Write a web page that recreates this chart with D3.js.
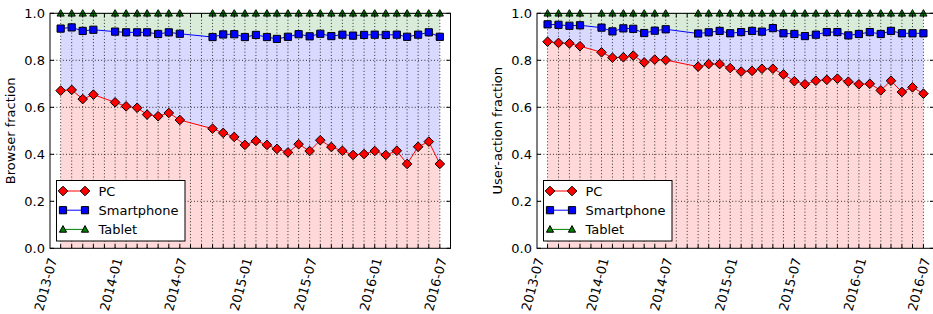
<!DOCTYPE html>
<html>
<head>
<meta charset="utf-8">
<script src="https://cdn.jsdelivr.net/npm/d3@7"></script>
<style>
html,body{margin:0;padding:0;background:#fff;}
svg{display:block;}
text{font-family:"DejaVu Sans",sans-serif;fill:#000;}
</style>
</head>
<body>
<script>
const months = ["2013-07","2013-08","2013-09","2013-10","2013-12","2014-01","2014-02","2014-03","2014-04","2014-05","2014-06",
"2014-09","2014-10","2014-11","2014-12","2015-01","2015-02","2015-03","2015-04","2015-05","2015-06","2015-07","2015-08","2015-09","2015-10","2015-11","2015-12","2016-01","2016-02","2016-03","2016-04","2016-05","2016-06"];

const browserPC = [0.671,0.674,0.635,0.654,0.621,0.604,0.598,0.569,0.562,0.576,0.546,
0.509,0.491,0.474,0.440,0.457,0.440,0.423,0.408,0.443,0.414,0.460,0.431,0.415,0.397,0.401,0.414,0.397,0.415,0.359,0.432,0.454,0.359];
const browserPhone = [0.935,0.940,0.925,0.930,0.922,0.919,0.919,0.919,0.912,0.919,0.913,
0.899,0.910,0.911,0.899,0.908,0.899,0.891,0.900,0.911,0.902,0.913,0.903,0.909,0.905,0.908,0.909,0.908,0.909,0.900,0.909,0.919,0.900];
const browserTablet = months.map(() => 1.0);

const actionPC = [0.879,0.874,0.872,0.860,0.834,0.811,0.813,0.820,0.791,0.803,0.801,
0.773,0.784,0.784,0.767,0.752,0.755,0.764,0.764,0.740,0.711,0.698,0.713,0.717,0.722,0.709,0.698,0.700,0.672,0.713,0.665,0.685,0.658];
const actionPhone = [0.953,0.951,0.947,0.949,0.939,0.923,0.936,0.934,0.916,0.926,0.932,
0.914,0.919,0.925,0.915,0.920,0.925,0.922,0.937,0.915,0.912,0.903,0.909,0.920,0.920,0.906,0.912,0.920,0.912,0.925,0.915,0.915,0.915];
const actionTablet = months.map(() => 1.0);

const xTickLabels = ["2013-07","2014-01","2014-07","2015-01","2015-07","2016-01","2016-07"];
const yTicks = [0.0,0.2,0.4,0.6,0.8,1.0];
const seriesNames = ["PC","Smartphone","Tablet"];

const parseMonth = d3.utcParse("%Y-%m");
const W = 933, H = 314;
const svg = d3.select("body").append("svg").attr("width", W).attr("height", H);

function panel(opts) {
  const {left, right, top, bottom, ylabel, pc, phone, tablet, id} = opts;
  const x = d3.scaleUtc().domain([parseMonth("2013-06"), parseMonth("2016-07")]).range([left, right]);
  const y = d3.scaleLinear().domain([0, 1]).range([bottom, top]);
  const g = svg.append("g");
  const data = months.map((m, i) => ({d: parseMonth(m), pc: pc[i], ph: phone[i], tb: tablet[i]}));

  const clipId = "clip" + id;
  svg.append("clipPath").attr("id", clipId).append("rect")
    .attr("x", left).attr("y", top).attr("width", right - left).attr("height", bottom - top);
  const pg = g.append("g").attr("clip-path", `url(#${clipId})`);

  // fills
  pg.append("path").datum(data).attr("fill", "#ffd9d9")
    .attr("d", d3.area().x(d => x(d.d)).y0(y(0)).y1(d => y(d.pc)));
  pg.append("path").datum(data).attr("fill", "#d9d9ff")
    .attr("d", d3.area().x(d => x(d.d)).y0(d => y(d.pc)).y1(d => y(d.ph)));
  pg.append("path").datum(data).attr("fill", "#d9ecd9")
    .attr("d", d3.area().x(d => x(d.d)).y0(d => y(d.ph)).y1(d => y(d.tb)));

  // grid
  const monthTicks = d3.utcMonth.range(parseMonth("2013-07"), d3.utcMonth.offset(parseMonth("2016-07"), 1));
  pg.selectAll(".vg").data(monthTicks).join("line")
    .attr("x1", d => x(d)).attr("x2", d => x(d)).attr("y1", top).attr("y2", bottom)
    .attr("stroke", "#000").attr("stroke-width", 0.8).attr("stroke-dasharray", "1,2.2");
  pg.selectAll(".hg").data(yTicks.slice(1, -1)).join("line")
    .attr("x1", left).attr("x2", right).attr("y1", d => y(d)).attr("y2", d => y(d))
    .attr("stroke", "#000").attr("stroke-width", 0.8).attr("stroke-dasharray", "1,2.2");

  // lines
  const line = key => d3.line().x(d => x(d.d)).y(d => y(d[key]));
  pg.append("path").datum(data).attr("fill", "none").attr("stroke", "#ff0000").attr("stroke-width", 1).attr("d", line("pc"));
  pg.append("path").datum(data).attr("fill", "none").attr("stroke", "#0000ff").attr("stroke-width", 1).attr("d", line("ph"));
  pg.append("path").datum(data).attr("fill", "none").attr("stroke", "#008000").attr("stroke-width", 1).attr("d", line("tb"));

  const mg = g.append("g").attr("clip-path", `url(#${clipId}b)`);
  svg.append("clipPath").attr("id", clipId + "b").append("rect")
    .attr("x", left - 10).attr("y", top - 4).attr("width", right - left + 20).attr("height", bottom - top + 14);

  const diamond = "M0,-4.8L4.8,0L0,4.8L-4.8,0Z";
  const square = "M-3.6,-3.6H3.6V3.6H-3.6Z";
  const tri = "M0,-3.8L3.6,2.8H-3.6Z";
  mg.selectAll(".tb").data(data).join("path").attr("d", tri)
    .attr("transform", d => `translate(${x(d.d)},${y(d.tb)})`)
    .attr("fill", "#008000").attr("stroke", "#000").attr("stroke-width", 0.9);
  mg.selectAll(".ph").data(data).join("path").attr("d", square)
    .attr("transform", d => `translate(${x(d.d)},${y(d.ph)})`)
    .attr("fill", "#0000ff").attr("stroke", "#000").attr("stroke-width", 1);
  mg.selectAll(".pc").data(data).join("path").attr("d", diamond)
    .attr("transform", d => `translate(${x(d.d)},${y(d.pc)})`)
    .attr("fill", "#ff0000").attr("stroke", "#000").attr("stroke-width", 1);

  // ticks (inward)
  const tg = g.append("g").attr("stroke", "#000").attr("stroke-width", 1);
  monthTicks.forEach(t => {
    if (x(t) > right + 0.5) return;
    tg.append("line").attr("x1", x(t)).attr("x2", x(t)).attr("y1", bottom).attr("y2", bottom - 4);
    tg.append("line").attr("x1", x(t)).attr("x2", x(t)).attr("y1", top).attr("y2", top + 4);
  });
  yTicks.forEach(v => {
    tg.append("line").attr("x1", left).attr("x2", left + 4).attr("y1", y(v)).attr("y2", y(v));
    tg.append("line").attr("x1", right).attr("x2", right - 4).attr("y1", y(v)).attr("y2", y(v));
  });

  // spines
  g.append("rect").attr("x", left).attr("y", top).attr("width", right - left).attr("height", bottom - top)
    .attr("fill", "none").attr("stroke", "#000").attr("stroke-width", 1);

  // y tick labels
  g.selectAll(".yl").data(yTicks).join("text")
    .attr("x", left - 5).attr("y", d => y(d)).attr("dy", "0.36em")
    .attr("text-anchor", "end").attr("font-size", 13)
    .text(d => d3.format(".1f")(d));

  // x tick labels
  g.selectAll(".xl").data(xTickLabels).join("text")
    .attr("transform", d => `translate(${x(parseMonth(d)) - 3.5},${bottom + 11}) rotate(-75)`)
    .attr("text-anchor", "end").attr("font-size", 13)
    .text(d => d);

  // y label
  g.append("text").attr("transform", `translate(${left - 35},${(top + bottom) / 2}) rotate(-90)`)
    .attr("text-anchor", "middle").attr("font-size", 13).text(ylabel);

  // legend
  const lx = left + 6.5, ly = 180.5;
  const lg = g.append("g");
  lg.append("rect").attr("x", lx).attr("y", ly).attr("width", 128.5).attr("height", 60.5)
    .attr("fill", "#fff").attr("stroke", "#000").attr("stroke-width", 1);
  const styles = [
    {c: "#ff0000", shape: diamond},
    {c: "#0000ff", shape: square},
    {c: "#008000", shape: tri}
  ];
  seriesNames.forEach((name, i) => {
    const yy = ly + 10.5 + i * 19.2;
    lg.append("line").attr("x1", lx + 6.5).attr("x2", lx + 28.5).attr("y1", yy).attr("y2", yy)
      .attr("stroke", styles[i].c).attr("stroke-width", 1);
    [lx + 6.5, lx + 28.5].forEach(px => {
      lg.append("path").attr("d", styles[i].shape).attr("transform", `translate(${px},${yy})`)
        .attr("fill", styles[i].c).attr("stroke", "#000").attr("stroke-width", 1);
    });
    lg.append("text").attr("x", lx + 42).attr("y", yy).attr("dy", "0.36em")
      .attr("font-size", 13).text(name);
  });
}

panel({id: "a", left: 50, right: 450.5, top: 13.3, bottom: 248.3, ylabel: "Browser fraction",
  pc: browserPC, phone: browserPhone, tablet: browserTablet});
panel({id: "b", left: 537, right: 934, top: 13.3, bottom: 248.3, ylabel: "User-action fraction",
  pc: actionPC, phone: actionPhone, tablet: actionTablet});
</script>
</body>
</html>
